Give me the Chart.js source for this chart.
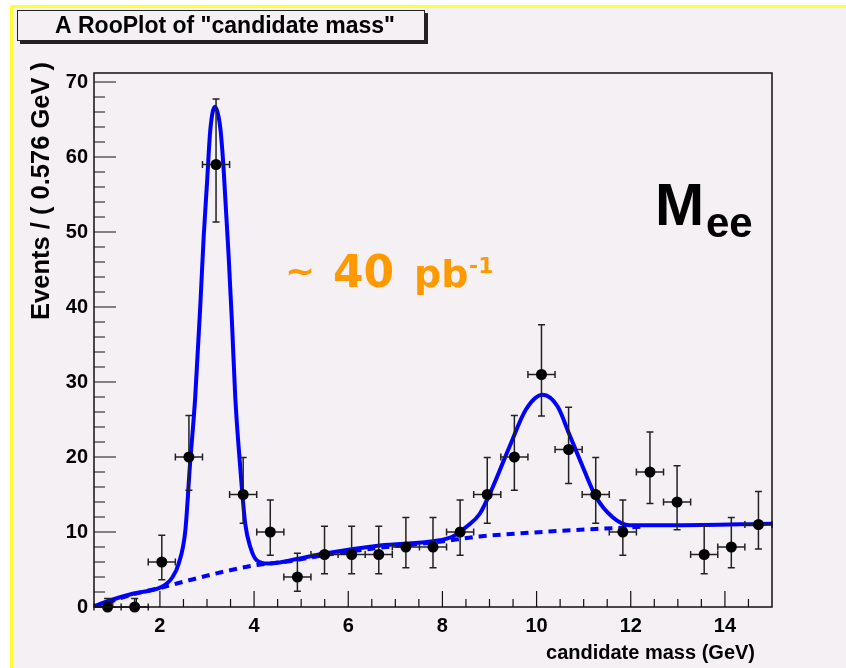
<!DOCTYPE html>
<html>
<head>
<meta charset="utf-8">
<script src="https://cdn.jsdelivr.net/npm/chart.js@4.4.0/dist/chart.umd.min.js"></script>
<style>
  html, body { margin: 0; padding: 0; background: #fff; }
  #frame {
    position: absolute; left: 10px; top: 5px; width: 836px; height: 663px;
    box-sizing: border-box; background: #f4f0f4;
    border-left: 3px solid #ffff33; border-top: 3px solid #ffff33;
  }
  #chart { position: absolute; left: 0; top: 0; }
</style>
</head>
<body>
<div id="frame"></div>
<canvas id="chart" width="846" height="668"></canvas>
<script>
// binned data: 25 bins of 0.576 GeV between 0.6 and 15 GeV
const binWidth = 0.576;
const binCenters = [0.888, 1.464, 2.04, 2.616, 3.192, 3.768, 4.344, 4.92, 5.496, 6.072,
  6.648, 7.224, 7.8, 8.376, 8.952, 9.528, 10.104, 10.68, 11.256, 11.832,
  12.408, 12.984, 13.56, 14.136, 14.712];
const counts = [0, 0, 6, 20, 59, 15, 10, 4, 7, 7, 7, 8, 8, 10, 15, 20, 31, 21, 15, 10, 18, 14, 7, 8, 11];
// asymmetric (Poisson) error bar ends
const errLow = [0, 0, 3.62, 15.57, 51.34, 11.17, 6.89, 2.09, 4.42, 4.42, 4.42, 5.23, 5.23,
  6.89, 11.17, 15.57, 25.46, 16.46, 11.17, 6.89, 13.80, 10.31, 4.42, 5.23, 7.74];
const errHigh = [1.15, 1.15, 9.58, 25.54, 67.72, 19.95, 14.27, 7.16, 10.77, 10.77, 10.77, 11.95, 11.95,
  14.27, 19.95, 25.54, 37.62, 26.65, 19.95, 14.27, 23.32, 18.83, 10.77, 11.95, 15.41];

// total fit curve (signal peaks + background)
const fitX = [0.6, 1.0, 1.44, 2.04, 2.26, 2.40, 2.54, 2.64, 2.75, 2.86, 2.93, 3.00, 3.07, 3.17,
  3.28, 3.35, 3.46, 3.53, 3.60, 3.70, 3.81, 3.92, 4.06, 4.30, 4.76, 5.47, 6.67, 7.94, 8.22,
  8.51, 8.79, 9.07, 9.42, 9.78, 10.13, 10.45, 10.69, 10.98, 11.26, 11.61, 11.97, 12.96, 15.0];
const fitY = [0.1, 1.0, 1.8, 2.7, 3.9, 5.8, 10.2, 19.1, 28.0, 40.5, 49.4, 56.5, 63.6, 66.7,
  64.0, 58.7, 46.7, 38.0, 28.0, 19.1, 11.2, 8.0, 6.2, 5.8, 6.2, 7.1, 8.2, 8.9, 9.4,
  10.7, 12.4, 16.0, 21.3, 26.4, 28.3, 26.7, 23.1, 18.7, 14.7, 12.0, 10.9, 10.9, 11.1];
// background component
const bkgX = [0.6, 1.44, 2.04, 2.64, 3.35, 4.06, 4.76, 5.47, 6.67, 7.94, 8.79, 9.85, 11.26, 12.25];
const bkgY = [0.0, 1.7, 2.6, 3.6, 4.7, 5.6, 6.1, 6.9, 7.9, 8.7, 9.4, 9.9, 10.4, 10.7];

const xTicks = [2, 4, 6, 8, 10, 12, 14];
const yTicks = [0, 10, 20, 30, 40, 50, 60, 70];

const FONT = "'Liberation Sans', Arial, Helvetica, sans-serif";
const LUMI_FONT = "'DejaVu Sans', sans-serif";
const toXY = (xs, ys) => xs.map((x, i) => ({ x, y: ys[i] }));

// horizontal (bin width) and vertical error bars, under the markers
const errorBars = {
  id: 'errorBars',
  beforeDatasetDraw(chart, args) {
    if (args.index !== 2) return;
    const { ctx, scales: { x, y } } = chart;
    const cap = 3.5;
    ctx.save();
    ctx.strokeStyle = '#222';
    ctx.lineWidth = 1.5;
    ctx.beginPath();
    binCenters.forEach((c, i) => {
      const px = x.getPixelForValue(c);
      const py = y.getPixelForValue(counts[i]);
      const x0 = x.getPixelForValue(c - binWidth / 2);
      const x1 = x.getPixelForValue(c + binWidth / 2);
      const yLo = y.getPixelForValue(errLow[i]);
      const yHi = y.getPixelForValue(errHigh[i]);
      ctx.moveTo(x0, py); ctx.lineTo(x1, py);
      ctx.moveTo(x0, py - cap); ctx.lineTo(x0, py + cap);
      ctx.moveTo(x1, py - cap); ctx.lineTo(x1, py + cap);
      ctx.moveTo(px, yLo); ctx.lineTo(px, yHi);
      ctx.moveTo(px - cap, yHi); ctx.lineTo(px + cap, yHi);
      if (errLow[i] > 0) { ctx.moveTo(px - cap, yLo); ctx.lineTo(px + cap, yLo); }
    });
    ctx.stroke();
    ctx.restore();
  }
};

// frame box and inward ticks
const frameTicks = {
  id: 'frameTicks',
  afterDatasetsDraw(chart) {
    const { ctx, chartArea: a, scales: { x, y } } = chart;
    ctx.save();
    ctx.strokeStyle = '#111';
    ctx.lineWidth = 1.5;
    ctx.strokeRect(a.left, a.top, a.right - a.left, a.bottom - a.top);
    ctx.lineWidth = 1.2;
    ctx.beginPath();
    for (let v = 1; v < 15; v += 0.5) {
      const px = x.getPixelForValue(v);
      const len = v % 2 === 0 ? 16 : 8;
      ctx.moveTo(px, a.bottom); ctx.lineTo(px, a.bottom - len);
    }
    for (let v = 0; v <= 70; v += 2) {
      const py = y.getPixelForValue(v);
      const len = v % 10 === 0 ? 22 : 11;
      ctx.moveTo(a.left, py); ctx.lineTo(a.left + len, py);
    }
    ctx.stroke();
    ctx.restore();
  }
};

// title box, axis titles and labels
const annotations = {
  id: 'annotations',
  afterDraw(chart) {
    const ctx = chart.ctx;
    ctx.save();
    ctx.fillStyle = '#222';
    ctx.fillRect(20, 13, 408, 31);
    ctx.fillStyle = '#f4f0f4';
    ctx.fillRect(17, 10, 408, 31);
    ctx.strokeStyle = '#222';
    ctx.lineWidth = 1;
    ctx.strokeRect(17.5, 10.5, 407, 30);

    ctx.fillStyle = '#000';
    ctx.textBaseline = 'alphabetic';
    ctx.textAlign = 'center';
    ctx.font = `bold 23px ${FONT}`;
    ctx.fillText('A RooPlot of "candidate mass"', 225, 33);

    ctx.textAlign = 'right';
    ctx.font = `bold 20px ${FONT}`;
    ctx.fillText('candidate mass (GeV)', 755, 659);

    ctx.save();
    ctx.translate(49, 62);
    ctx.rotate(-Math.PI / 2);
    ctx.font = `bold 25.5px ${FONT}`;
    ctx.fillText('Events / ( 0.576 GeV )', 0, 0);
    ctx.restore();

    ctx.textAlign = 'left';
    ctx.font = `bold 59px ${FONT}`;
    ctx.fillText('M', 655, 225);
    ctx.font = `bold 42px ${FONT}`;
    ctx.fillText('ee', 706, 237);

    ctx.fillStyle = '#ff9900';
    ctx.font = `bold 36px ${LUMI_FONT}`;
    ctx.fillText('~', 285, 283);
    ctx.font = `bold 44px ${LUMI_FONT}`;
    ctx.fillText('40', 333, 287);
    ctx.font = `bold 38px ${LUMI_FONT}`;
    ctx.fillText('pb', 414, 287);
    ctx.font = `bold 22px ${LUMI_FONT}`;
    ctx.fillText('-1', 469, 273);
    ctx.restore();
  }
};

new Chart(document.getElementById('chart'), {
  type: 'scatter',
  data: {
    datasets: [
      {
        label: 'background',
        data: toXY(bkgX, bkgY),
        showLine: true,
        borderColor: '#0000ff',
        borderWidth: 4,
        borderDash: [8, 6],
        cubicInterpolationMode: 'monotone',
        pointRadius: 0,
        order: 3
      },
      {
        label: 'fit',
        data: toXY(fitX, fitY),
        showLine: true,
        borderColor: '#0000ff',
        borderWidth: 4,
        cubicInterpolationMode: 'monotone',
        pointRadius: 0,
        order: 2
      },
      {
        label: 'data',
        data: toXY(binCenters, counts),
        pointRadius: 5.5,
        pointBackgroundColor: '#000',
        pointBorderWidth: 0,
        clip: false,
        order: 1
      }
    ]
  },
  options: {
    responsive: false,
    devicePixelRatio: 1,
    animation: false,
    layout: { padding: { left: 34, right: 74, top: 73, bottom: 21 } },
    plugins: {
      legend: { display: false },
      tooltip: { enabled: false }
    },
    scales: {
      x: {
        type: 'linear',
        min: 0.6,
        max: 15,
        grid: { display: false, drawTicks: false },
        border: { display: false },
        afterBuildTicks: s => { s.ticks = xTicks.map(v => ({ value: v })); },
        afterFit: s => { s.height = 40; },
        ticks: { color: '#000', padding: 7, font: { family: FONT, size: 20, weight: 'bold' } }
      },
      y: {
        min: 0,
        max: 71.2,
        grid: { display: false, drawTicks: false },
        border: { display: false },
        afterBuildTicks: s => { s.ticks = yTicks.map(v => ({ value: v })); },
        afterFit: s => { s.width = 60; },
        ticks: { color: '#000', padding: 6, font: { family: FONT, size: 20, weight: 'bold' } }
      }
    }
  },
  plugins: [errorBars, frameTicks, annotations]
});
</script>
</body>
</html>
